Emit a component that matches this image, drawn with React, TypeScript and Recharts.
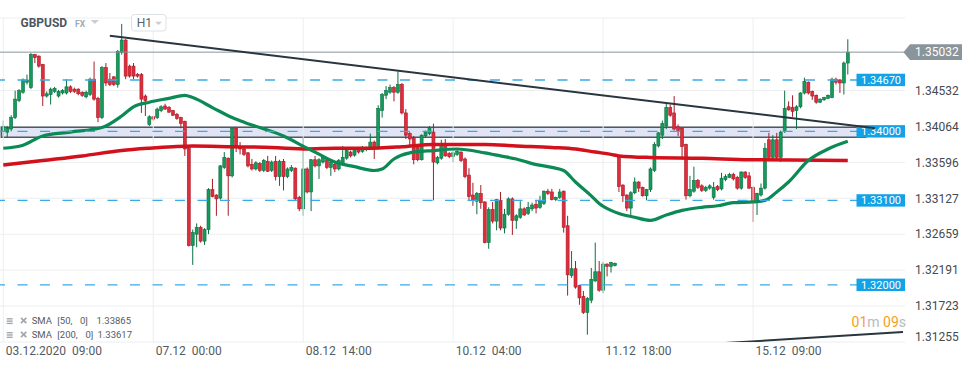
import React from "react";
import {
  Bar,
  CartesianGrid,
  ComposedChart,
  Line,
  ReferenceArea,
  ReferenceLine,
  XAxis,
  YAxis,
} from "recharts";

// GBPUSD H1 candles (left to right)
const opens = [
  1.3401, 1.3399, 1.3403, 1.3418, 1.344, 1.3451, 1.3464, 1.3457, 1.35, 1.3498,
  1.3487, 1.3446, 1.3448, 1.3452, 1.3446, 1.345, 1.345, 1.3458, 1.3455, 1.3455,
  1.3451, 1.3445, 1.3448, 1.3468, 1.3443, 1.3418, 1.3483, 1.3468, 1.3471, 1.3461,
  1.3503, 1.3519, 1.3485, 1.3485, 1.3474, 1.3474, 1.3446, 1.3409, 1.3419, 1.3418,
  1.3427, 1.3433, 1.3431, 1.3427, 1.3422, 1.3418, 1.3413, 1.3378, 1.3251, 1.3266,
  1.3275, 1.3257, 1.3272, 1.3324, 1.3317, 1.3313, 1.3353, 1.3365, 1.3342, 1.3404,
  1.338, 1.3377, 1.3372, 1.3357, 1.3351, 1.3358, 1.3349, 1.3361, 1.3349, 1.3361,
  1.3341, 1.3361, 1.3341, 1.3349, 1.3352, 1.3314, 1.3299, 1.3351, 1.3321, 1.3363,
  1.3355, 1.336, 1.3363, 1.3353, 1.3357, 1.3351, 1.3357, 1.3365, 1.3373, 1.3369,
  1.3376, 1.3374, 1.3376, 1.3379, 1.3386, 1.3379, 1.3427, 1.3447, 1.3451, 1.3457,
  1.3451, 1.3461, 1.3424, 1.3397, 1.3391, 1.3379, 1.3363, 1.3394, 1.3397, 1.3399,
  1.3359, 1.3365, 1.3382, 1.3371, 1.3367, 1.337, 1.3373, 1.3364, 1.3343, 1.3317,
  1.3309, 1.3319, 1.3308, 1.3255, 1.3298, 1.3283, 1.331, 1.3274, 1.3292, 1.3312,
  1.3284, 1.3288, 1.3299, 1.3293, 1.3299, 1.3305, 1.3301, 1.3306, 1.3322, 1.3321,
  1.3311, 1.3314, 1.3322, 1.3277, 1.3212, 1.3221, 1.3199, 1.3185, 1.3164, 1.318,
  1.3205, 1.3217, 1.3193, 1.3227, 1.3224, 1.3225, 1.3367, 1.333, 1.3317, 1.33,
  1.332, 1.3334, 1.3327, 1.3316, 1.3324, 1.3349, 1.3381, 1.3395, 1.3407, 1.3431,
  1.3424, 1.3406, 1.3404, 1.3383, 1.3316, 1.3322, 1.3336, 1.3329, 1.3323, 1.3326,
  1.3314, 1.3328, 1.3325, 1.3337, 1.334, 1.3344, 1.334, 1.3326, 1.3347, 1.3342,
  1.3327, 1.3308, 1.3317, 1.3326, 1.3389, 1.3366, 1.3389, 1.3366, 1.3401, 1.3432,
  1.3431, 1.3427, 1.3432, 1.345, 1.3464, 1.3452, 1.3447, 1.3438, 1.3441, 1.3443,
  1.3444, 1.3468, 1.3467, 1.3463, 1.3489,
];
const highs = [
  1.3414, 1.3407, 1.3421, 1.3453, 1.3455, 1.3469, 1.3474, 1.3502, 1.3501, 1.3499,
  1.3488, 1.3452, 1.3457, 1.3458, 1.3454, 1.3455, 1.3468, 1.346, 1.3457, 1.3456,
  1.3452, 1.3453, 1.347, 1.3491, 1.3445, 1.3485, 1.3489, 1.3476, 1.3472, 1.3506,
  1.354, 1.352, 1.3487, 1.3489, 1.3476, 1.3476, 1.3448, 1.3421, 1.342, 1.3431,
  1.3434, 1.3436, 1.3433, 1.3428, 1.3424, 1.3419, 1.3414, 1.338, 1.3272, 1.328,
  1.3277, 1.3274, 1.3326, 1.3338, 1.3318, 1.3356, 1.3373, 1.3366, 1.3405, 1.3405,
  1.3386, 1.3378, 1.3373, 1.3364, 1.3361, 1.336, 1.3364, 1.3368, 1.3362, 1.3368,
  1.3363, 1.3364, 1.3353, 1.3356, 1.3353, 1.3316, 1.3393, 1.3353, 1.3364, 1.3368,
  1.3365, 1.3368, 1.3365, 1.3362, 1.3359, 1.3364, 1.3381, 1.3377, 1.3375, 1.3378,
  1.3378, 1.3381, 1.338, 1.3397, 1.3388, 1.3434, 1.345, 1.3459, 1.3461, 1.3459,
  1.3478, 1.3463, 1.3429, 1.3399, 1.3394, 1.3381, 1.3396, 1.3401, 1.3407, 1.341,
  1.3368, 1.3389, 1.339, 1.3373, 1.3374, 1.3376, 1.3374, 1.3366, 1.3352, 1.3333,
  1.3321, 1.333, 1.3309, 1.3301, 1.3308, 1.3312, 1.3321, 1.3299, 1.3314, 1.3314,
  1.3292, 1.3309, 1.3301, 1.3308, 1.3307, 1.331, 1.3316, 1.3323, 1.3325, 1.3325,
  1.3315, 1.3325, 1.3323, 1.329, 1.3244, 1.3231, 1.32, 1.3192, 1.3184, 1.3222,
  1.3255, 1.3231, 1.323, 1.3228, 1.323, 1.3229, 1.3368, 1.3331, 1.3318, 1.3322,
  1.334, 1.3335, 1.3328, 1.3325, 1.3353, 1.3386, 1.3399, 1.3414, 1.3437, 1.3435,
  1.3446, 1.3409, 1.3405, 1.3384, 1.3342, 1.3354, 1.3338, 1.3331, 1.3329, 1.3331,
  1.3334, 1.333, 1.3346, 1.3344, 1.3346, 1.3346, 1.3342, 1.3348, 1.3348, 1.3347,
  1.3328, 1.332, 1.3332, 1.3385, 1.3398, 1.3395, 1.3398, 1.3401, 1.3453, 1.3439,
  1.3447, 1.3434, 1.3451, 1.347, 1.3465, 1.3453, 1.3448, 1.3443, 1.3445, 1.3448,
  1.347, 1.347, 1.3468, 1.3491, 1.352,
];
const lows = [
  1.3392, 1.3392, 1.34, 1.3416, 1.3438, 1.3449, 1.3461, 1.3455, 1.3489, 1.3483,
  1.3433, 1.3444, 1.3435, 1.345, 1.3444, 1.3448, 1.3448, 1.345, 1.345, 1.3447,
  1.3445, 1.3443, 1.3446, 1.344, 1.3412, 1.3416, 1.3459, 1.3459, 1.3459, 1.3457,
  1.35, 1.3468, 1.347, 1.3468, 1.347, 1.3424, 1.342, 1.3407, 1.3414, 1.3416,
  1.3425, 1.3428, 1.3424, 1.342, 1.3415, 1.3404, 1.3368, 1.325, 1.3226, 1.3249,
  1.3255, 1.3252, 1.3266, 1.3314, 1.329, 1.3311, 1.3351, 1.329, 1.334, 1.3373,
  1.337, 1.3368, 1.3353, 1.3349, 1.3349, 1.3347, 1.3347, 1.3347, 1.3347, 1.3336,
  1.3329, 1.3323, 1.3339, 1.3347, 1.331, 1.3296, 1.329, 1.3319, 1.3296, 1.3353,
  1.3338, 1.3358, 1.3351, 1.3342, 1.3347, 1.3349, 1.3355, 1.3363, 1.3366, 1.3367,
  1.3371, 1.3372, 1.3374, 1.3377, 1.3364, 1.3377, 1.3418, 1.3442, 1.3449, 1.3439,
  1.3449, 1.3422, 1.339, 1.3379, 1.3357, 1.3361, 1.3362, 1.3392, 1.3395, 1.331,
  1.3357, 1.3363, 1.3367, 1.3365, 1.336, 1.3368, 1.336, 1.3339, 1.331, 1.3303,
  1.3292, 1.3299, 1.3254, 1.3247, 1.328, 1.3271, 1.3271, 1.3267, 1.329, 1.3265,
  1.3273, 1.3286, 1.329, 1.3291, 1.3296, 1.3293, 1.3299, 1.3304, 1.3317, 1.331,
  1.3309, 1.3312, 1.3268, 1.3186, 1.3209, 1.3195, 1.3174, 1.3162, 1.3135, 1.3176,
  1.3204, 1.3191, 1.3189, 1.3211, 1.3216, 1.3224, 1.3321, 1.3308, 1.3296, 1.3291,
  1.3318, 1.3321, 1.3315, 1.331, 1.3321, 1.3347, 1.3379, 1.339, 1.3403, 1.3419,
  1.3401, 1.3394, 1.3364, 1.3311, 1.3314, 1.332, 1.3325, 1.3321, 1.3321, 1.3324,
  1.3311, 1.3322, 1.3323, 1.3335, 1.3339, 1.3336, 1.3324, 1.3324, 1.3338, 1.3325,
  1.3282, 1.3291, 1.3315, 1.3324, 1.3364, 1.3364, 1.3364, 1.336, 1.3398, 1.3427,
  1.3419, 1.3403, 1.343, 1.3448, 1.3448, 1.3441, 1.3436, 1.3437, 1.344, 1.3442,
  1.3443, 1.3461, 1.345, 1.3448, 1.3474,
];
const closes = [
  1.3406, 1.3404, 1.3418, 1.3442, 1.3453, 1.3467, 1.3467, 1.35, 1.3496, 1.3485,
  1.3446, 1.3449, 1.3455, 1.3456, 1.3452, 1.3453, 1.3458, 1.3452, 1.3452, 1.3449,
  1.3447, 1.3451, 1.3468, 1.3442, 1.3418, 1.3483, 1.3463, 1.3461, 1.3461, 1.3504,
  1.3519, 1.3472, 1.3472, 1.3472, 1.3472, 1.3442, 1.344, 1.3419, 1.3416, 1.3429,
  1.3432, 1.3429, 1.3425, 1.3421, 1.3417, 1.341, 1.3377, 1.3251, 1.3268, 1.3275,
  1.3257, 1.3272, 1.3324, 1.3315, 1.3312, 1.3355, 1.3366, 1.3342, 1.3404, 1.3379,
  1.3377, 1.337, 1.3355, 1.3351, 1.3359, 1.3349, 1.3362, 1.3348, 1.336, 1.3341,
  1.3361, 1.3341, 1.3351, 1.3353, 1.3312, 1.3299, 1.3351, 1.3321, 1.3363, 1.3355,
  1.3363, 1.3366, 1.3353, 1.336, 1.3351, 1.3362, 1.3366, 1.3375, 1.3368, 1.3376,
  1.3373, 1.3379, 1.3378, 1.3386, 1.3379, 1.343, 1.3448, 1.3453, 1.3457, 1.3451,
  1.3461, 1.3424, 1.3395, 1.339, 1.3363, 1.3363, 1.3395, 1.3399, 1.3405, 1.336,
  1.3366, 1.338, 1.3368, 1.3367, 1.3372, 1.3374, 1.3362, 1.3341, 1.3315, 1.331,
  1.3319, 1.3307, 1.3255, 1.3298, 1.3283, 1.3311, 1.3274, 1.3292, 1.3312, 1.3284,
  1.329, 1.3299, 1.3291, 1.3301, 1.3304, 1.33, 1.3309, 1.3322, 1.3319, 1.3311,
  1.3314, 1.3321, 1.3275, 1.3213, 1.3221, 1.3197, 1.3183, 1.3164, 1.3182, 1.3207,
  1.3217, 1.3193, 1.3227, 1.3224, 1.3229, 1.3228, 1.3328, 1.3316, 1.33, 1.332,
  1.3334, 1.3326, 1.3316, 1.3324, 1.3351, 1.3383, 1.3398, 1.341, 1.3431, 1.3421,
  1.3403, 1.3401, 1.338, 1.3316, 1.3324, 1.3336, 1.3327, 1.3323, 1.3327, 1.3329,
  1.3327, 1.3324, 1.3339, 1.3341, 1.3344, 1.3338, 1.3326, 1.3347, 1.334, 1.3326,
  1.3308, 1.3319, 1.3326, 1.3378, 1.3366, 1.3389, 1.3366, 1.3399, 1.343, 1.3428,
  1.3426, 1.3432, 1.345, 1.3465, 1.345, 1.3446, 1.3438, 1.3442, 1.3444, 1.3447,
  1.3468, 1.3464, 1.3463, 1.3489, 1.35032,
];

// moving averages read at a few candle positions: [candle index, value]
const sma50Points: [number, number][] = [
  [0, 1.3378], [5, 1.3382], [10, 1.3394], [17, 1.3399], [25, 1.3405], [30, 1.342],
  [33, 1.3432], [37, 1.3438], [42, 1.3443], [46, 1.3447], [48, 1.3444], [53, 1.3431],
  [58, 1.3418], [61, 1.3412], [65, 1.3405], [71, 1.3394], [77, 1.3378], [79, 1.3373],
  [84, 1.336], [89, 1.3354], [94, 1.3349], [96, 1.3351], [99, 1.3364], [103, 1.3372],
  [109, 1.3375], [115, 1.3377], [122, 1.3372], [126, 1.3368], [130, 1.3364], [134, 1.3358],
  [139, 1.3353], [142, 1.3349], [145, 1.3334], [149, 1.3316], [151, 1.3306], [154, 1.3297],
  [156, 1.3293], [160, 1.3288], [164, 1.3284], [168, 1.3291], [172, 1.3297], [177, 1.3301],
  [181, 1.3303], [185, 1.3307], [190, 1.3308], [193, 1.331], [196, 1.3321], [199, 1.3334],
  [204, 1.3362], [209, 1.3377], [214, 1.3387],
];
const sma200Points: [number, number][] = [
  [0, 1.3356], [10, 1.3362], [20, 1.3368], [30, 1.3375], [37, 1.3378], [43, 1.338],
  [48, 1.3381], [58, 1.338], [68, 1.3379], [77, 1.3377], [84, 1.3378], [92, 1.3378],
  [101, 1.338], [109, 1.3383], [116, 1.3383], [122, 1.3383], [130, 1.3381], [139, 1.3379],
  [145, 1.3377], [150, 1.3373], [154, 1.337], [156, 1.3368], [164, 1.3366], [177, 1.3365],
  [189, 1.3363], [214, 1.3362],
];

const slotCount = 229; // candles plus the empty space on the right
const dateTickIdx = [0, 38, 76, 114, 152, 190];
const dateTickText = [
  "03.12.2020  09:00",
  "07.12  00:00",
  "08.12  14:00",
  "10.12  04:00",
  "11.12  18:00",
  "15.12  09:00",
];
const priceTicks = [1.34532, 1.34064, 1.33596, 1.33127, 1.32659, 1.32191, 1.31723, 1.31255];
const levelLines = [1.3467, 1.34, 1.331, 1.32];
const lastPrice = 1.35032;
const zone = { from: 1.33922, to: 1.34053, endIdx: 218 };
const resistance = [
  { x: 27, y: 1.35245 },
  { x: 221, y: 1.3404 },
];
const support = [
  { x: 176, y: 1.3122 },
  { x: 228, y: 1.31384 },
];
const legendRows = [
  { parts: ["SMA", "[50,", "0]", "1.33865"] },
  { parts: ["SMA", "[200,", "0]", "1.33617"] },
];

const FONT = "Roboto, 'Open Sans', sans-serif";
const GREEN = "#149a5b";
const GREEN_EDGE = "#0c7042";
const RED = "#e02c3b";
const RED_EDGE = "#a51d29";
const TAG_BLUE = "#13a2e6";
const DASH_BLUE = "#3aaae6";
const GRID = "#eceef0";

const sma50Map = new Map(sma50Points);
const sma200Map = new Map(sma200Points);

const rows = Array.from({ length: slotCount }, (_, i) => {
  const has = i < opens.length;
  return {
    i,
    range: has ? [lows[i], highs[i]] : null,
    o: has ? opens[i] : null,
    h: has ? highs[i] : null,
    l: has ? lows[i] : null,
    c: has ? closes[i] : null,
    sma50: sma50Map.has(i) ? sma50Map.get(i) : null,
    sma200: sma200Map.has(i) ? sma200Map.get(i) : null,
  };
});

function Candle(props: any) {
  const { x, y, width, height, payload } = props;
  if (!payload || payload.o == null || x == null) return null;
  const { o, h, l, c } = payload;
  const top = Math.min(y, y + height);
  const span = Math.abs(height);
  const k = h > l ? span / (h - l) : 0;
  const py = (p: number) => top + (h - p) * k;
  const up = c >= o;
  const cx = x + width / 2;
  const bodyTop = py(Math.max(o, c));
  const bodyH = Math.max(1, py(Math.min(o, c)) - bodyTop);
  const edge = up ? GREEN_EDGE : RED_EDGE;
  return (
    <g>
      <line x1={cx} x2={cx} y1={top} y2={top + span} stroke={edge} strokeWidth={1} />
      <rect
        x={cx - 1.5}
        y={bodyTop}
        width={3}
        height={bodyH}
        fill={up ? GREEN : RED}
        stroke={edge}
        strokeWidth={0.6}
      />
    </g>
  );
}

const levelTag = (value: number) => (props: any) => {
  const vb = props.viewBox || {};
  const right = vb.x + vb.width;
  return (
    <g>
      <rect x={right - 48.5} y={vb.y - 6.2} width={48.5} height={12.4} fill={TAG_BLUE} />
      <text
        x={right - 24}
        y={vb.y + 4}
        textAnchor="middle"
        fontSize={11}
        fontFamily={FONT}
        fill="#ffffff"
      >
        {value.toFixed(5)}
      </text>
    </g>
  );
};

const lastPriceTag = (props: any) => {
  const vb = props.viewBox || {};
  const right = vb.x + vb.width;
  const yy = vb.y;
  return (
    <g>
      <path
        d={`M${right - 1.5},${yy} L${right + 5},${yy - 7.8} L${right + 57},${yy - 7.8} L${right + 57},${yy + 7.8} L${right + 5},${yy + 7.8} Z`}
        fill="#8a949b"
      />
      <text x={right + 10} y={yy + 4.3} fontSize={12} fontFamily={FONT} fill="#ffffff">
        {lastPrice.toFixed(5)}
      </text>
    </g>
  );
};

const dateLabel = (text: string) => (props: any) => {
  const vb = props.viewBox || {};
  return (
    <text
      x={vb.x + 2.5}
      y={vb.y + vb.height + 12.5}
      fontSize={12}
      fontFamily={FONT}
      fill="#555b60"
      style={{ whiteSpace: "pre" }}
    >
      {text}
    </text>
  );
};

function PriceTick(props: any) {
  const { y, payload } = props;
  const isBottom = payload.value === priceTicks[priceTicks.length - 1];
  return (
    <text x={915} y={(isBottom ? y - 5 : y) + 4.2} fontSize={12} fontFamily={FONT} fill="#444a4f">
      {Number(payload.value).toFixed(5)}
    </text>
  );
}

function LegendRow({ y, parts }: { y: number; parts: string[] }) {
  // word positions follow the wide spacing of the original legend
  const xs = [31.7, 57.3, parts[1].length > 4 ? 85.5 : 80, parts[1].length > 4 ? 97.5 : 96.5];
  return (
    <g>
      <rect x={6.7} y={y - 6.3} width={6} height={1.4} fill="#a3a9ae" />
      <rect x={6.7} y={y - 4} width={6} height={1.4} fill="#a3a9ae" />
      <rect x={6.7} y={y - 1.7} width={6} height={1.4} fill="#a3a9ae" />
      <line x1={21} y1={y - 6.5} x2={26.3} y2={y - 1.2} stroke="#a3a9ae" strokeWidth={1.8} />
      <line x1={26.3} y1={y - 6.5} x2={21} y2={y - 1.2} stroke="#a3a9ae" strokeWidth={1.8} />
      {parts.map((p, k) => (
        <text key={k} x={xs[k]} y={y} fontSize={9.5} fontFamily={FONT} fill="#555b60">
          {p}
        </text>
      ))}
    </g>
  );
}

export default function App() {
  return (
    <div style={{ position: "relative", width: 974, height: 368, background: "#ffffff" }}>
      <style>{"body{margin:0}"}</style>
      <ComposedChart
        width={974}
        height={368}
        data={rows}
        margin={{ top: 18, right: 0, bottom: 26, left: 0 }}
        barCategoryGap={0}
        barGap={0}
      >
        <CartesianGrid vertical={false} stroke={GRID} />
        <XAxis dataKey="i" type="category" hide padding={{ left: 1.3, right: 0 }} />
        <YAxis
          orientation="right"
          width={69}
          domain={[1.31255, 1.35477]}
          allowDataOverflow
          ticks={priceTicks}
          interval={0}
          axisLine={false}
          tickLine={false}
          tick={<PriceTick />}
        />
        {dateTickIdx.map((idx, k) => (
          <ReferenceLine
            key={`d${idx}`}
            x={idx}
            stroke={GRID}
            strokeWidth={1}
            label={dateLabel(dateTickText[k])}
          />
        ))}
        <Bar dataKey="range" shape={<Candle />} isAnimationActive={false} />
        <Line
          dataKey="sma200"
          type="monotone"
          stroke="#d3111d"
          strokeWidth={3.5}
          dot={false}
          connectNulls
          isAnimationActive={false}
        />
        <Line
          dataKey="sma50"
          type="monotone"
          stroke="#0b8a55"
          strokeWidth={3.2}
          dot={false}
          connectNulls
          isAnimationActive={false}
        />
        <ReferenceLine y={lastPrice} stroke="#8a949b" strokeWidth={1} label={lastPriceTag} />
        {levelLines.map((v) => (
          <ReferenceLine
            key={`l${v}`}
            y={v}
            stroke={DASH_BLUE}
            strokeWidth={1.4}
            strokeDasharray="10 12.5"
            label={levelTag(v)}
          />
        ))}
        <ReferenceArea
          y1={zone.from}
          y2={zone.to}
          x2={zone.endIdx}
          fill="#ccd2ee"
          fillOpacity={0.6}
          stroke="#4f5962"
          strokeWidth={1.5}
          ifOverflow="visible"
        />
        <ReferenceLine segment={resistance} stroke="#29353f" strokeWidth={2} ifOverflow="visible" />
        <ReferenceLine segment={support} stroke="#29353f" strokeWidth={2} ifOverflow="hidden" />
      </ComposedChart>
      <svg
        width={974}
        height={368}
        style={{ position: "absolute", left: 0, top: 0, pointerEvents: "none" }}
      >
        <text x={20.5} y={27.3} fontSize={12} fontWeight="bold" fontFamily={FONT} fill="#4d565e">
          GBPUSD
        </text>
        <text x={75} y={27.3} fontSize={8.5} fontWeight="bold" fontFamily={FONT} fill="#a0aab2">
          FX
        </text>
        <path d="M90.7,20 L99,20 L94.85,24 Z" fill="#c8ced3" />
        <rect x={131.5} y={14.5} width={34.5} height={16.5} rx={3} fill="#ffffff" stroke="#dde2e6" />
        <text x={136.7} y={27.3} fontSize={12} fontFamily={FONT} fill="#5a636a">
          H1
        </text>
        <path d="M155,21.7 L162,21.7 L158.5,25 Z" fill="#c8ced3" />
        <LegendRow y={324.4} parts={legendRows[0].parts} />
        <LegendRow y={338.3} parts={legendRows[1].parts} />
        <text x={906} y={327.3} textAnchor="end" fontSize={14} fontFamily={FONT} style={{ whiteSpace: "pre" }}>
          <tspan fill="#f6a01a">01</tspan>
          <tspan fill="#b5bbc0">m </tspan>
          <tspan fill="#f6a01a">09</tspan>
          <tspan fill="#b5bbc0">s</tspan>
        </text>
      </svg>
    </div>
  );
}
